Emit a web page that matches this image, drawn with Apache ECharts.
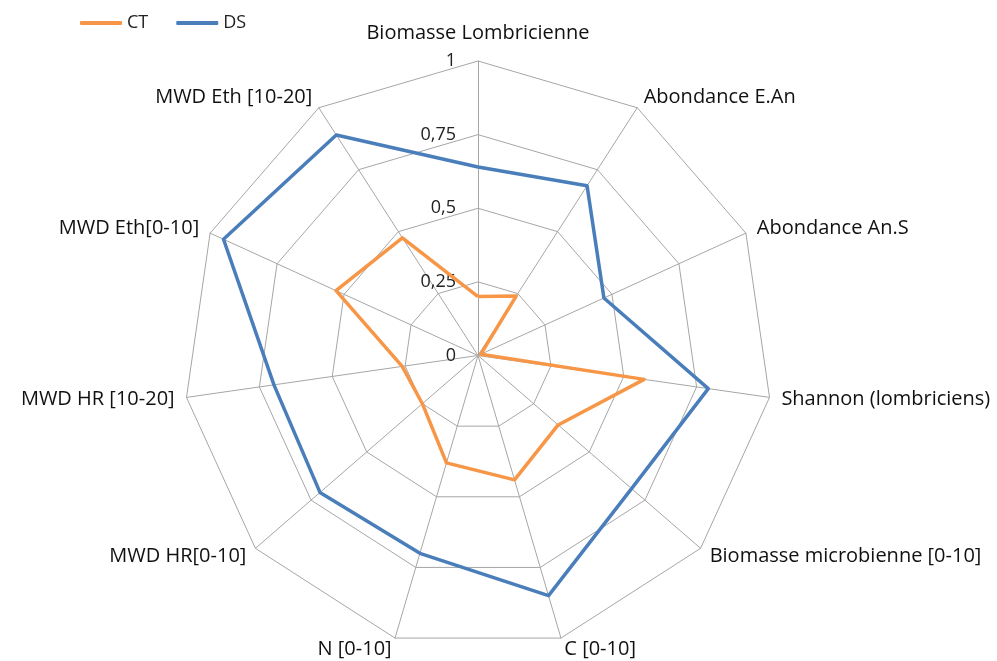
<!DOCTYPE html>
<html>
<head>
<meta charset="utf-8">
<script src="https://cdn.jsdelivr.net/npm/echarts@6/dist/echarts.min.js"></script>
<style>
  html, body { margin: 0; padding: 0; background: #fff; }
  #chart { width: 997px; height: 661px; }
</style>
</head>
<body>
<div id="chart"></div>
<script>
  // indicators, clockwise from the top
  var indicators = [
    'Biomasse Lombricienne', 'Abondance E.An', 'Abondance An.S', 'Shannon (lombriciens)',
    'Biomasse microbienne [0-10]', 'C [0-10]', 'N [0-10]', 'MWD HR[0-10]',
    'MWD HR [10-20]', 'MWD Eth[0-10]', 'MWD Eth [10-20]'
  ];
  var ctValues = [0.20, 0.24, 0.01, 0.57, 0.36, 0.44, 0.38, 0.25, 0.26, 0.53, 0.475];
  var dsValues = [0.64, 0.685, 0.47, 0.79, 0.69, 0.85, 0.70, 0.71, 0.70, 0.95, 0.89];
  var seriesNames = ['CT', 'DS'];
  var seriesColors = ['#F79646', '#4A7EBB'];

  // echarts lays radar axes out counter-clockwise, so flip all but the first
  function clockwise (arr) {
    return [arr[0]].concat(arr.slice(1).reverse());
  }

  var chart = echarts.init(document.getElementById('chart'));
  var font = '"Open Sans", sans-serif';

  var indicatorList = clockwise(indicators).map(function (name, i) {
    var ind = { name: name, min: 0, max: 1 };
    if (i === 0) {
      ind.axisLabel = { show: true };
    }
    return ind;
  });

  chart.setOption({
    animation: false,
    color: seriesColors,
    legend: {
      left: 80,
      top: 14,
      padding: 0,
      itemWidth: 42,
      itemHeight: 4,
      itemGap: 28,
      icon: 'roundRect',
      textStyle: { fontFamily: font, fontSize: 18, color: '#222' },
      data: seriesNames
    },
    radar: {
      center: [478, 355.5],
      radius: 294.5,
      shape: 'polygon',
      splitNumber: 4,
      axisNameGap: 12,
      axisName: {
        color: '#111',
        fontFamily: font,
        fontSize: 20,
        formatter: function (name) {
          // the top label sits a bit higher
          return name === indicators[0] ? '{top|' + name + '}' : name;
        },
        rich: {
          top: { fontFamily: font, fontSize: 20, color: '#111', padding: [0, 0, 6, 0] }
        }
      },
      axisLine: { lineStyle: { color: '#A6A6A6', width: 1 } },
      splitLine: { lineStyle: { color: '#A6A6A6', width: 1 } },
      splitArea: { show: false },
      axisTick: { show: false },
      axisLabel: {
        show: false,
        margin: 22,
        color: '#222',
        fontFamily: font,
        fontSize: 18,
        formatter: function (v) { return String(v).replace('.', ','); }
      },
      indicator: indicatorList
    },
    series: [{
      type: 'radar',
      symbol: 'none',
      data: [
        { name: seriesNames[0], value: clockwise(ctValues),
          lineStyle: { color: seriesColors[0], width: 3.5 }, itemStyle: { color: seriesColors[0] } },
        { name: seriesNames[1], value: clockwise(dsValues),
          lineStyle: { color: seriesColors[1], width: 3.5 }, itemStyle: { color: seriesColors[1] } }
      ]
    }]
  });
</script>
</body>
</html>
